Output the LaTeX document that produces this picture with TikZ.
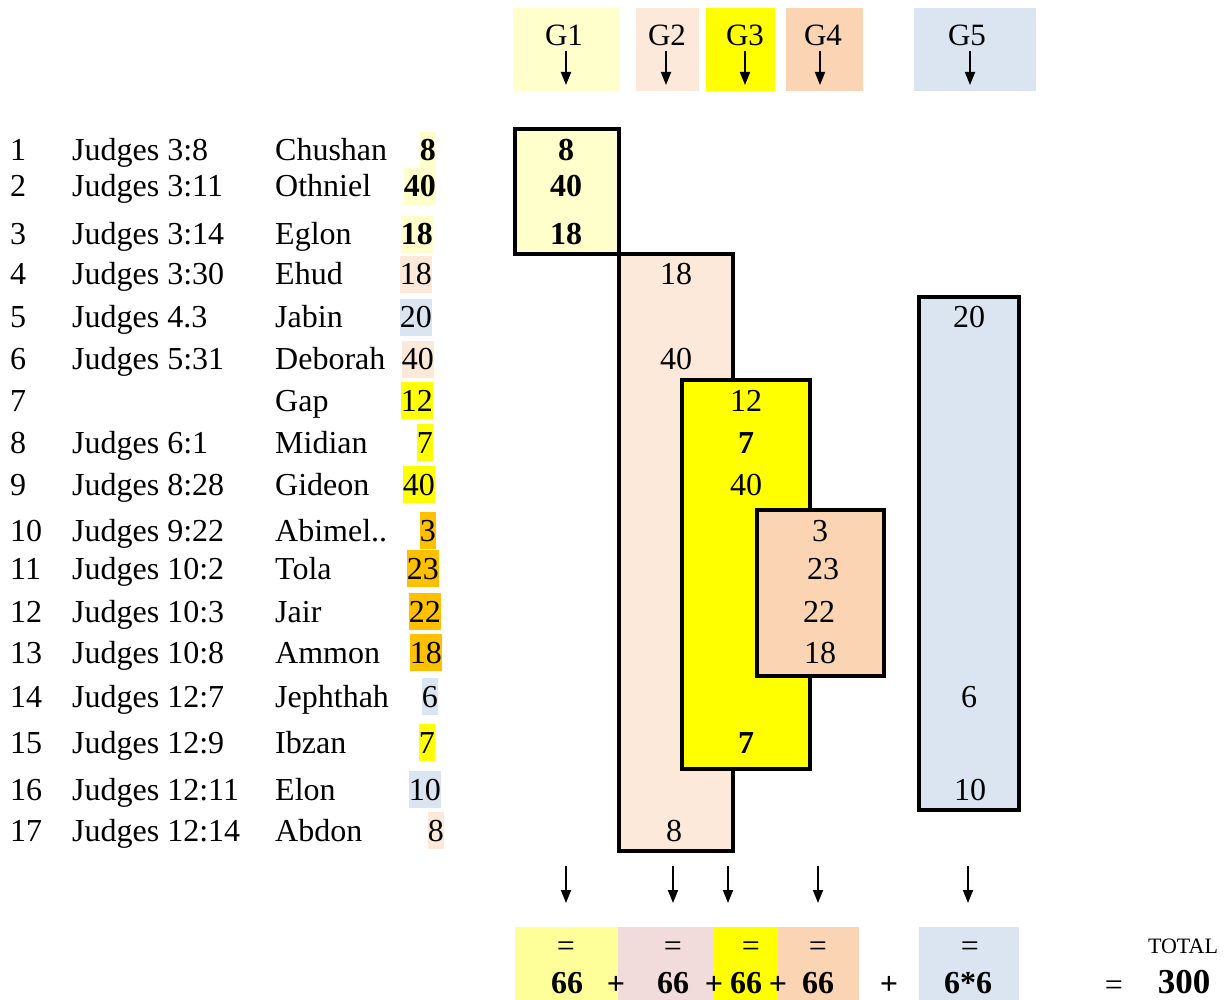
\documentclass[tikz,border=0pt]{standalone}
\usepackage{fontspec}
\setmainfont{Liberation Serif}
\usepackage{xcolor}
\usetikzlibrary{arrows.meta}
\definecolor{gonefill}{HTML}{FFFFCC}
\definecolor{gtwofill}{HTML}{FDE9D9}
\definecolor{gthreefill}{HTML}{FFFF00}
\definecolor{gfourfill}{HTML}{FBD4B4}
\definecolor{gfivefill}{HTML}{DBE5F1}
\definecolor{ammonorange}{HTML}{FFC000}
\definecolor{sumyellow}{HTML}{FFFF99}
\definecolor{sumpink}{HTML}{F2DCDB}
\newcommand{\tabfont}{\fontsize{32}{38}\selectfont}
\tikzset{
  row-text/.style={anchor=base west, inner sep=0pt, font=\tabfont},
  year-cell/.style={anchor=base east, inner xsep=0pt, inner ysep=0pt,
    text height=29pt, text depth=8pt, font=\tabfont},
  group-box/.style={draw=black, line width=3.5pt, inner sep=0pt},
  box-num/.style={anchor=base, inner sep=0pt, font=\tabfont},
  box-bold/.style={box-num, font=\tabfont\bfseries},
  head-label/.style={anchor=base, inner sep=0pt, font=\fontsize{31}{36}\selectfont},
  flow-arrow/.style={-{Triangle[length=13pt,width=10pt]}, line width=1.8pt},
  sum-text/.style={anchor=base, inner sep=0pt, font=\tabfont},
  sum-bold/.style={sum-text, font=\tabfont\bfseries}
}
\begin{document}
\begin{tikzpicture}[x=1pt, y=-1pt]
\useasboundingbox (0,0) rectangle (1229,1000);

% column heads
\foreach \g/\xl/\xr/\xt/\xa/\col in {1/513/619/564/566/gonefill, 2/636/699/667/666/gtwofill,
    3/706/775/745/745/gthreefill, 4/786/863/823/820/gfourfill, 5/914/1036/967/970/gfivefill}{
  \fill[\col] (\xl,8) rectangle (\xr,91);
  \node[head-label] (head\g) at (\xt,46) {G\g};
  \coordinate (headtop\g) at (\xa,51);
  \coordinate (headtip\g) at (\xa,85);
  \draw[flow-arrow] (headtop\g) -- (headtip\g);
}

% list of judges
\foreach \i/\yb/\jref/\jname/\yrs/\col/\xr/\wt in {
  1/161/Judges 3:8/Chushan/8/gonefill/436/\bfseries,
  2/197/Judges 3:11/Othniel/40/gonefill/436/\bfseries,
  3/245/Judges 3:14/Eglon/18/gonefill/433/\bfseries,
  4/285/Judges 3:30/Ehud/18/gtwofill/432/\relax,
  5/328/Judges 4.3/Jabin/20/gfivefill/432/\relax,
  6/370/Judges 5:31/Deborah/40/gtwofill/434/\relax,
  7/411/{}/Gap/12/gthreefill/433/\relax,
  8/453/Judges 6:1/Midian/7/gthreefill/433/\relax,
  9/495/Judges 8:28/Gideon/40/gthreefill/435/\relax,
  10/541/Judges 9:22/Abimel../3/ammonorange/436/\relax,
  11/579/Judges 10:2/Tola/23/ammonorange/439/\relax,
  12/622/Judges 10:3/Jair/22/ammonorange/441/\relax,
  13/663/Judges 10:8/Ammon/18/ammonorange/442/\relax,
  14/707/Judges 12:7/Jephthah/6/gfivefill/438/\relax,
  15/753/Judges 12:9/Ibzan/7/gthreefill/435/\relax,
  16/800/Judges 12:11/Elon/10/gfivefill/441/\relax,
  17/841/Judges 12:14/Abdon/8/gtwofill/444/\relax}{
  \node[row-text] (num\i) at (10,\yb) {\i};
  \node[row-text] (ref\i) at (72,\yb) {\jref};
  \node[row-text] (name\i) at (275,\yb) {\jname};
  \node[year-cell, fill=\col] (yrs\i) at (\xr,\yb) {\wt\yrs};
}

% group boxes
\node[group-box, fill=gonefill, minimum width=104, minimum height=125] (grp1) at (567,191.5) {};
\node[group-box, fill=gtwofill, minimum width=114, minimum height=597] (grp2) at (676,552.5) {};
\node[group-box, fill=gthreefill, minimum width=128, minimum height=389] (grp3) at (746,574.5) {};
\node[group-box, fill=gfourfill, minimum width=127, minimum height=166] (grp4) at (820.5,593) {};
\node[group-box, fill=gfivefill, minimum width=100, minimum height=513] (grp5) at (969,553.5) {};

\node[box-bold] (gone8) at (566,161) {8};
\node[box-bold] (gone40) at (566,197) {40};
\node[box-bold] (gone18) at (566,245) {18};
\node[box-num] (gtwo18) at (676,285) {18};
\node[box-num] (gtwo40) at (676,370) {40};
\node[box-num] (gtwo8) at (674,841) {8};
\node[box-num] (gthree12) at (746,411) {12};
\node[box-bold] (gthree7) at (746,453) {7};
\node[box-num] (gthree40) at (746,495) {40};
\node[box-bold] (gthreeseven) at (746,753) {7};
\node[box-num] (gfour3) at (820,541) {3};
\node[box-num] (gfour23) at (823,579) {23};
\node[box-num] (gfour22) at (819,622) {22};
\node[box-num] (gfour18) at (820,663) {18};
\node[box-num] (gfive20) at (969,328) {20};
\node[box-num] (gfive6) at (969,707) {6};
\node[box-num] (gfive10) at (970,800) {10};

% sums
\foreach \g/\xa in {1/566, 2/673, 3/728, 4/818, 5/968}{
  \coordinate (sumtop\g) at (\xa,866);
  \coordinate (sumtip\g) at (\xa,903);
  \draw[flow-arrow] (sumtop\g) -- (sumtip\g);
}
\fill[sumyellow] (515,927) rectangle (618,1000);
\fill[sumpink] (618,927) rectangle (714,1000);
\fill[gthreefill] (714,927) rectangle (778,1000);
\fill[gfourfill] (778,927) rectangle (859,1000);
\fill[gfivefill] (919,927) rectangle (1019,1000);

\node[sum-text] (eq1) at (566,956) {=};
\node[sum-text] (eq2) at (673,956) {=};
\node[sum-text] (eq3) at (751,956) {=};
\node[sum-text] (eq4) at (818,956) {=};
\node[sum-text] (eq5) at (970,956) {=};
\node[sum-bold] (sum1) at (567,993) {66};
\node[sum-bold] (plus1) at (616,994) {+};
\node[sum-bold] (sum2) at (673,993) {66};
\node[sum-bold] (plus2) at (714,994) {+};
\node[sum-bold] (sum3) at (746,993) {66};
\node[sum-bold] (plus3) at (778,994) {+};
\node[sum-bold] (sum4) at (818,993) {66};
\node[sum-bold] (plus4) at (889,994) {+};
\node[sum-bold] (sum5) at (968,993) {6*6};
\node[sum-text] (eqtotal) at (1114,995) {=};
\node[anchor=base, inner sep=0pt, font=\fontsize{22}{26}\selectfont] (totallabel) at (1183,953) {TOTAL};
\node[anchor=base, inner sep=0pt, font=\fontsize{35}{40}\selectfont\bfseries] (total) at (1184,993) {300};
\end{tikzpicture}
\end{document}
